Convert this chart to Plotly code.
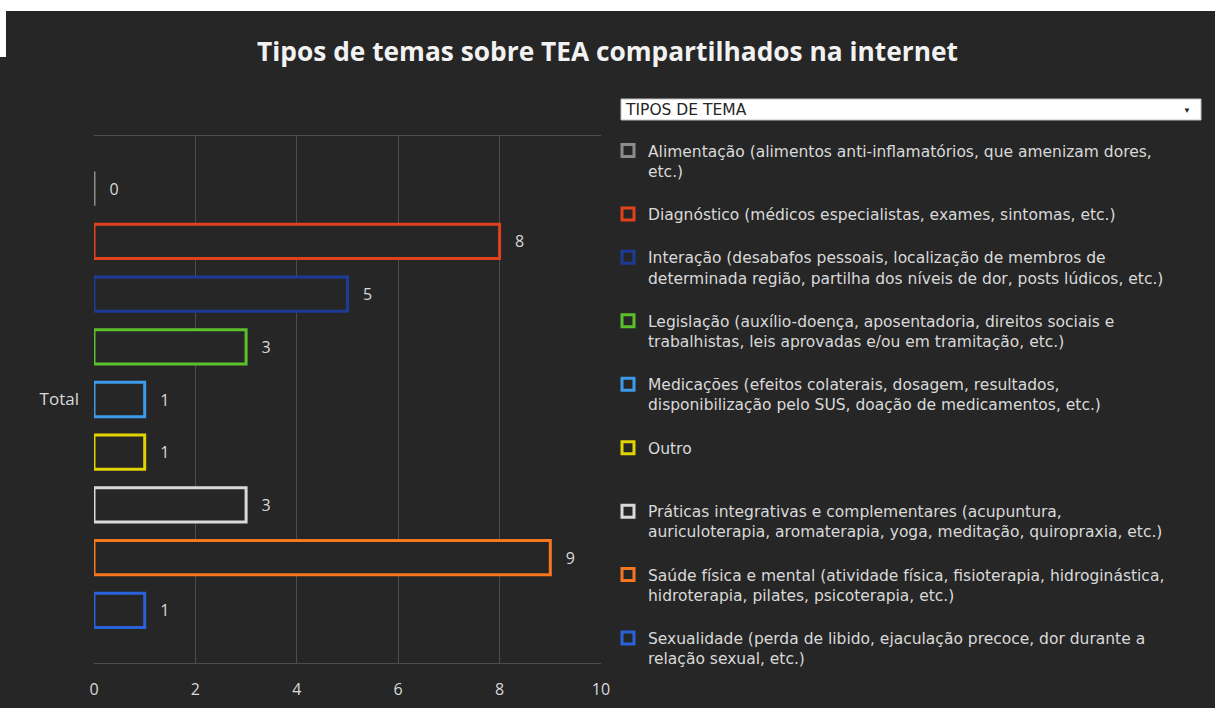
import plotly.graph_objects as go

W, H = 1215, 708
BG = "#262626"

temas = [
    "Alimentação (alimentos anti-inflamatórios, que amenizam dores,<br>etc.)",
    "Diagnóstico (médicos especialistas, exames, sintomas, etc.)",
    "Interação (desabafos pessoais, localização de membros de<br>determinada região, partilha dos níveis de dor, posts lúdicos, etc.)",
    "Legislação (auxílio-doença, aposentadoria, direitos sociais e<br>trabalhistas, leis aprovadas e/ou em tramitação, etc.)",
    "Medicações (efeitos colaterais, dosagem, resultados,<br>disponibilização pelo SUS, doação de medicamentos, etc.)",
    "Outro",
    "Práticas integrativas e complementares (acupuntura,<br>auriculoterapia, aromaterapia, yoga, meditação, quiropraxia, etc.)",
    "Saúde física e mental (atividade física, fisioterapia, hidroginástica,<br>hidroterapia, pilates, psicoterapia, etc.)",
    "Sexualidade (perda de libido, ejaculação precoce, dor durante a<br>relação sexual, etc.)",
]
totais = [0, 8, 5, 3, 1, 1, 3, 9, 1]
cores = ["#8c8c8c", "#e0421c", "#1c3a96", "#5cc02a", "#3d9be9",
         "#e1d400", "#d9d9d9", "#f5781e", "#2a62d9"]
categoria = ["Total"]


def px_x(p):
    return p / W


def px_y(p):
    return 1 - p / H


def legenda(txt, linhas):
    # pad the legend text so every entry takes the same height as in Excel
    n = txt.count("<br>") + 1
    return txt + "<br> " * (linhas - n)


fig = go.Figure()
for tema, v, cor in zip(temas, totais, cores):
    linhas = 2 if tema.startswith("Diagn") else 3
    fig.add_trace(go.Bar(
        x=[v], y=categoria, orientation="h",
        name=legenda(tema, linhas),
        marker=dict(color=BG, line=dict(color=cor, width=3)),
        text=[v], texttemplate="   %{x}", textposition="outside",
        textfont=dict(color="#d9d9d9", size=16, family="Open Sans"),
        cliponaxis=False,
    ))

fig.update_layout(
    width=W, height=H, autosize=False,
    paper_bgcolor=BG, plot_bgcolor=BG,
    margin=dict(l=0, r=0, t=0, b=0),
    barmode="group", bargap=0.10, bargroupgap=0.35,
    title=dict(text="<b>Tipos de temas sobre TEA compartilhados na internet</b>",
               x=0.5, xanchor="center", y=px_y(52), yanchor="middle",
               font=dict(family="Open Sans", size=26.3, color="#f2f2f2")),
    font=dict(family="Open Sans", color="#d9d9d9"),
    xaxis=dict(domain=[px_x(94), px_x(601)], range=[0, 10], dtick=2,
               showgrid=True, gridcolor="#4d4d4d", gridwidth=1,
               zeroline=False, showline=True, mirror=True, linecolor="#4d4d4d",
               tickfont=dict(size=16, color="#d9d9d9"), ticklabelstandoff=12,
               automargin=False, fixedrange=True),
    yaxis=dict(domain=[px_y(663), px_y(136)], type="category",
               range=[0.5, -0.5], showgrid=False, zeroline=False,
               tickfont=dict(size=17, color="#d9d9d9"), ticklabelstandoff=14,
               automargin=False, fixedrange=True),
    legend=dict(x=px_x(608), xanchor="left", y=px_y(134), yanchor="top",
                bgcolor="rgba(0,0,0,0)", valign="top", itemwidth=30,
                font=dict(family="DejaVu Sans", size=15.5, color="#d9d9d9"),
                traceorder="normal"),
    shapes=[
        dict(type="rect", xref="paper", yref="paper", x0=0, x1=1,
             y0=px_y(11), y1=1, fillcolor="white", line_width=0),
        dict(type="rect", xref="paper", yref="paper", x0=0, x1=px_x(6),
             y0=px_y(57), y1=1, fillcolor="white", line_width=0),
        dict(type="rect", xref="paper", yref="paper", x0=px_x(621), x1=px_x(1201),
             y0=px_y(120), y1=px_y(99), fillcolor="white",
             line=dict(color="#bfbfbf", width=1)),
    ],
    annotations=[
        dict(text="TIPOS DE TEMA", xref="paper", yref="paper",
             x=px_x(623), y=px_y(110), xanchor="left", yanchor="middle",
             showarrow=False, font=dict(family="DejaVu Sans", size=15.5, color="#262626")),
        dict(text="▼", xref="paper", yref="paper",
             x=px_x(1187), y=px_y(110), xanchor="center", yanchor="middle",
             showarrow=False, font=dict(size=8, color="#262626")),
    ],
)

# the page body has an 8px default margin; drop it so the figure sits at 0,0
fig.write_html("out.html", config={"displayModeBar": False},
               post_script="document.body.style.margin='0';")
